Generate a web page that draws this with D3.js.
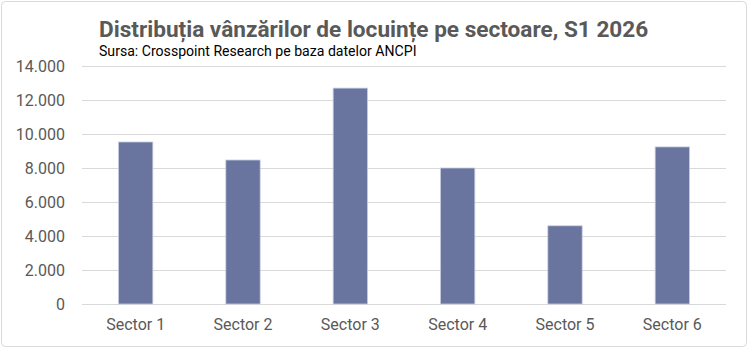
<!DOCTYPE html>
<html>
<head>
<meta charset="utf-8">
<script src="https://cdn.jsdelivr.net/npm/d3@7"></script>
<style>
    body { margin: 0; background: #fff; }
    svg { font-family: Roboto, "Noto Sans", sans-serif; }
</style>
</head>
<body>
<svg id="chart" width="750" height="350"></svg>
<script>
// values
const sectors = ["Sector 1", "Sector 2", "Sector 3", "Sector 4", "Sector 5", "Sector 6"];
const sales = [9530, 8470, 12700, 8000, 4600, 9240];
const yTicks = [0, 2000, 4000, 6000, 8000, 10000, 12000, 14000];

const titleText = "Distribuția vânzărilor de locuințe pe sectoare, S1 2026";
const sourceText = "Sursa: Crosspoint Research pe baza datelor ANCPI";

const svg = d3.select("#chart");
const margin = {top: 66, right: 24, bottom: 46, left: 82};
const width = +svg.attr("width") - margin.left - margin.right;
const height = +svg.attr("height") - margin.top - margin.bottom;

// outer frame
svg.append("rect")
    .attr("x", 1.5).attr("y", 1.5)
    .attr("width", 745).attr("height", 345)
    .attr("rx", 4)
    .attr("fill", "#fff")
    .attr("stroke", "#d9d9d9");

svg.append("text")
    .attr("x", 99).attr("y", 37)
    .attr("fill", "#595959")
    .style("font-size", "22.6px")
    .style("font-weight", "bold")
    .text(titleText);

svg.append("text")
    .attr("x", 99).attr("y", 56)
    .attr("fill", "#000")
    .style("font-size", "14.1px")
    .text(sourceText);

const x = d3.scaleBand().domain(sectors).range([0, width]).paddingInner(0.68).paddingOuter(0.34);
const y = d3.scaleLinear().domain([0, 14000]).range([height, 0]);

const g = svg.append("g")
    .attr("transform", "translate(" + margin.left + "," + margin.top + ")");

// gridlines
g.append("g")
    .selectAll("line")
    .data(yTicks)
    .join("line")
    .attr("x1", 0).attr("x2", width)
    .attr("y1", d => Math.round(y(d)) + 0.5)
    .attr("y2", d => Math.round(y(d)) + 0.5)
    .attr("stroke", "#d9d9d9")
    .attr("stroke-width", 1);

const fmt = d => d === 0 ? "0" : d3.format(",")(d).replace(/,/g, ".");

const yAxis = g.append("g")
    .call(d3.axisLeft(y).tickValues(yTicks).tickFormat(fmt).tickSize(0).tickPadding(17));
yAxis.select(".domain").remove();
yAxis.selectAll("text")
    .attr("fill", "#595959")
    .style("font-size", "16px")
    .style("font-family", "Roboto, sans-serif");

g.selectAll(".bar")
    .data(sales)
    .join("rect")
    .attr("class", "bar")
    .attr("x", (d, i) => x(sectors[i]))
    .attr("y", d => y(d))
    .attr("width", x.bandwidth())
    .attr("height", d => height - y(d))
    .attr("fill", "#69759e")
    .attr("stroke", "#c9cde0")
    .attr("stroke-width", 0.8);

const xAxis = g.append("g")
    .attr("transform", "translate(0," + height + ")")
    .call(d3.axisBottom(x).tickSize(0).tickPadding(15));
xAxis.select(".domain").remove();
xAxis.selectAll("text")
    .attr("fill", "#595959")
    .style("font-size", "16px")
    .style("font-family", "Roboto, sans-serif");
</script>
</body>
</html>
